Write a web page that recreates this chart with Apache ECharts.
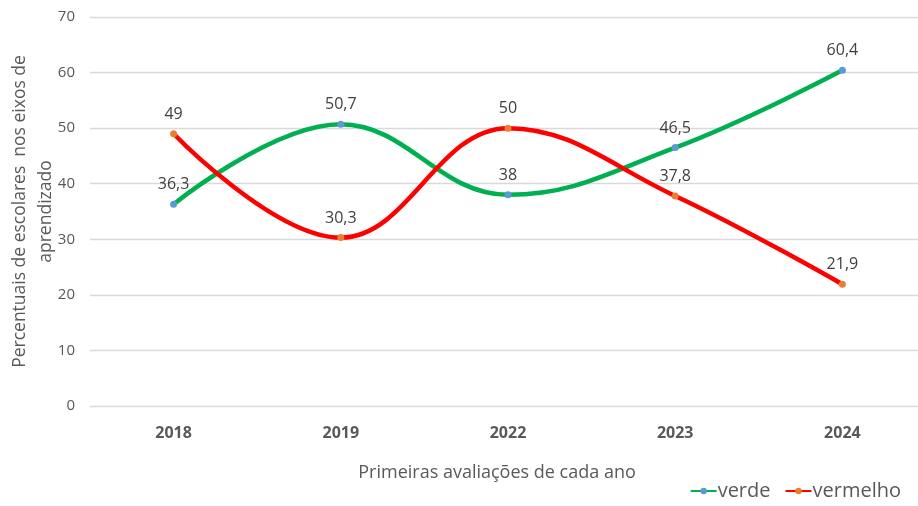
<!DOCTYPE html>
<html><head><meta charset="utf-8">
<script src="https://cdn.jsdelivr.net/npm/echarts@6/dist/echarts.min.js"></script>
<style>html,body{margin:0;padding:0;background:#fff}#c{width:918px;height:506px}</style>
</head><body><div id="c"></div>
<script>
const categories = ['2018', '2019', '2022', '2023', '2024'];
const verde = [36.3, 50.7, 38, 46.5, 60.4];
const vermelho = [49, 30.3, 50, 37.8, 21.9];
const yTicks = [0, 10, 20, 30, 40, 50, 60, 70];

const FONT = '"Open Sans", "Noto Sans", sans-serif';
const chart = echarts.init(document.getElementById('c'));
const fmt = p => String(p.value).replace('.', ',');
chart.setOption({
  animation: false,
  textStyle: { fontFamily: FONT },
  grid: { left: 90, top: 17, width: 836, height: 389, containLabel: false, outerBoundsMode: 'none' },
  title: {
    text: 'Primeiras avaliações de cada ano',
    left: 492, top: 459, textAlign: 'center',
    textStyle: { fontFamily: FONT, fontSize: 18, fontWeight: 'normal', color: '#595959' }
  },
  legend: {
    right: 12, bottom: 0, itemGap: 14, itemWidth: 26, itemHeight: 8,
    textStyle: { fontFamily: FONT, fontSize: 20, color: '#595959', padding: [0, 0, 0, -4] },
    data: ['verde', 'vermelho']
  },
  xAxis: {
    type: 'category', data: categories, boundaryGap: true,
    axisLine: { show: false }, axisTick: { show: false },
    axisLabel: { margin: 19, fontSize: 16, fontWeight: 'bold', color: '#595959', fontFamily: FONT }
  },
  yAxis: {
    type: 'value', min: yTicks[0], max: yTicks[yTicks.length - 1], interval: 10,
    name: 'Percentuais de escolares  nos eixos de\naprendizado',
    nameLocation: 'middle', nameRotate: 90, nameGap: 31, nameMoveOverlap: false,
    nameTextStyle: { fontFamily: FONT, fontSize: 17.5, color: '#595959', lineHeight: 26 },
    axisLine: { show: false }, axisTick: { show: false },
    axisLabel: { margin: 15, fontSize: 15, color: '#595959', fontFamily: FONT },
    splitLine: { lineStyle: { color: '#d9d9d9', width: 1.3 } }
  },
  series: [
    {
      name: 'verde', type: 'line', data: verde, smooth: 0.4,
      symbol: 'circle', symbolSize: 7,
      lineStyle: { color: '#00B050', width: 4.5 },
      itemStyle: { color: '#5B9BD5' },
      label: { show: true, position: 'top', distance: 8, formatter: fmt, fontSize: 16, color: '#404040', fontFamily: FONT }
    },
    {
      name: 'vermelho', type: 'line', data: vermelho, smooth: 0.4,
      symbol: 'circle', symbolSize: 7,
      lineStyle: { color: '#FF0000', width: 4.5 },
      itemStyle: { color: '#ED7D31' },
      label: { show: true, position: 'top', distance: 8, formatter: fmt, fontSize: 16, color: '#404040', fontFamily: FONT }
    }
  ]
});
</script></body></html>
